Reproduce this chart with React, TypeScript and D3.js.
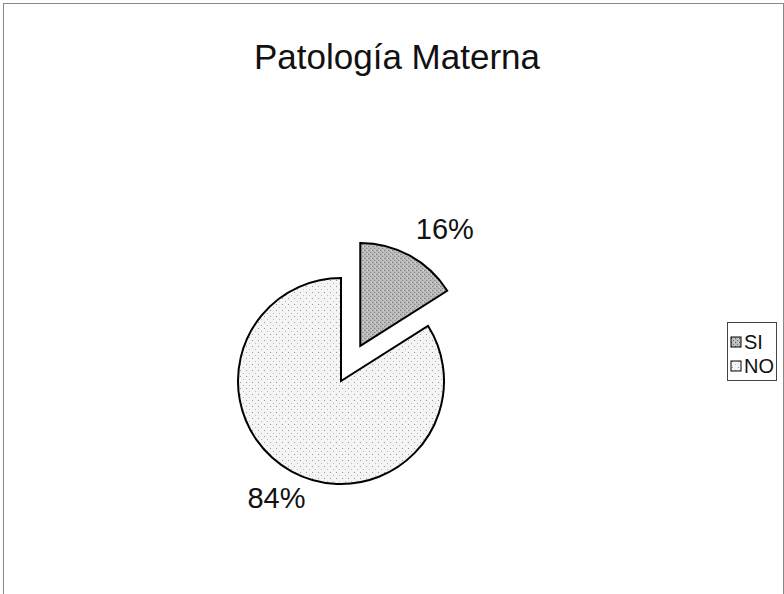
import React from "react";
import * as d3 from "d3";

const categories = ["SI", "NO"];
const values = [16, 84];
const percentLabels = ["16%", "84%"];
const chartTitle = "Patología Materna";

const W = 784;
const H = 594;
const cx = 341;
const cy = 381;
const R = 103;
const explode = [40, 0];
const fills = ["url(#patSI)", "url(#patNO)"];
const legendFills = ["url(#patSI)", "url(#patNO)"];

export default function App() {
  const pie = d3
    .pie<number>()
    .sort(null)
    .startAngle(0)
    .endAngle(2 * Math.PI)
    .value((d) => d);
  const arcs = pie(values);
  const arcGen = d3.arc<d3.PieArcDatum<number>>().innerRadius(0).outerRadius(R);

  return (
    <svg
      width={W}
      height={H}
      style={{ position: "absolute", left: 0, top: 0, background: "#fff" }}
      fontFamily="Liberation Sans, Arial, sans-serif"
    >
      <defs>
        <pattern id="patSI" width="4" height="4" patternUnits="userSpaceOnUse">
          <rect width="4" height="4" fill="#bdbdbd" />
          <rect x="0" y="0" width="1" height="1" fill="#555" />
          <rect x="2" y="2" width="1" height="1" fill="#777" />
          <rect x="3" y="0" width="1" height="1" fill="#e0e0e0" />
        </pattern>
        <pattern id="patNO" width="6" height="6" patternUnits="userSpaceOnUse">
          <rect width="6" height="6" fill="#f4f4f4" />
          <rect x="1" y="1" width="1" height="1" fill="#999" />
          <rect x="4" y="4" width="1" height="1" fill="#bbb" />
        </pattern>
      </defs>
      <rect x={3.5} y={3.5} width={W - 4} height={H} fill="none" stroke="#888" strokeWidth={1} />
      <text x={397} y={69} textAnchor="middle" fontSize={35} fill="#111">
        {chartTitle}
      </text>
      {arcs.map((a, i) => {
        const mid = (a.startAngle + a.endAngle) / 2;
        const dx = Math.sin(mid) * explode[i];
        const dy = -Math.cos(mid) * explode[i];
        const lr = 134;
        const lx = Math.sin(mid) * lr + (Math.sin(mid) > 0 ? 20 : 0);
        const ly = -Math.cos(mid) * lr;
        return (
          <g key={categories[i]} transform={`translate(${cx + dx},${cy + dy})`}>
            <path d={arcGen(a) || ""} fill={fills[i]} stroke="#000" strokeWidth={2} strokeLinejoin="miter" />
            <text x={lx} y={ly} textAnchor="middle" dominantBaseline="central" fontSize={29} fill="#111">
              {percentLabels[i]}
            </text>
          </g>
        );
      })}
      <rect x={727.5} y={322.5} width={49} height={58} fill="#fff" stroke="#444" strokeWidth={1} />
      {categories.map((c, i) => (
        <g key={c} transform={`translate(731,${342 + i * 24})`}>
          <rect x={0} y={-5} width={10} height={10} fill={legendFills[i]} stroke="#000" strokeWidth={1} />
          <text x={13} y={0} dominantBaseline="central" fontSize={20} fill="#111">
            {c}
          </text>
        </g>
      ))}
    </svg>
  );
}
